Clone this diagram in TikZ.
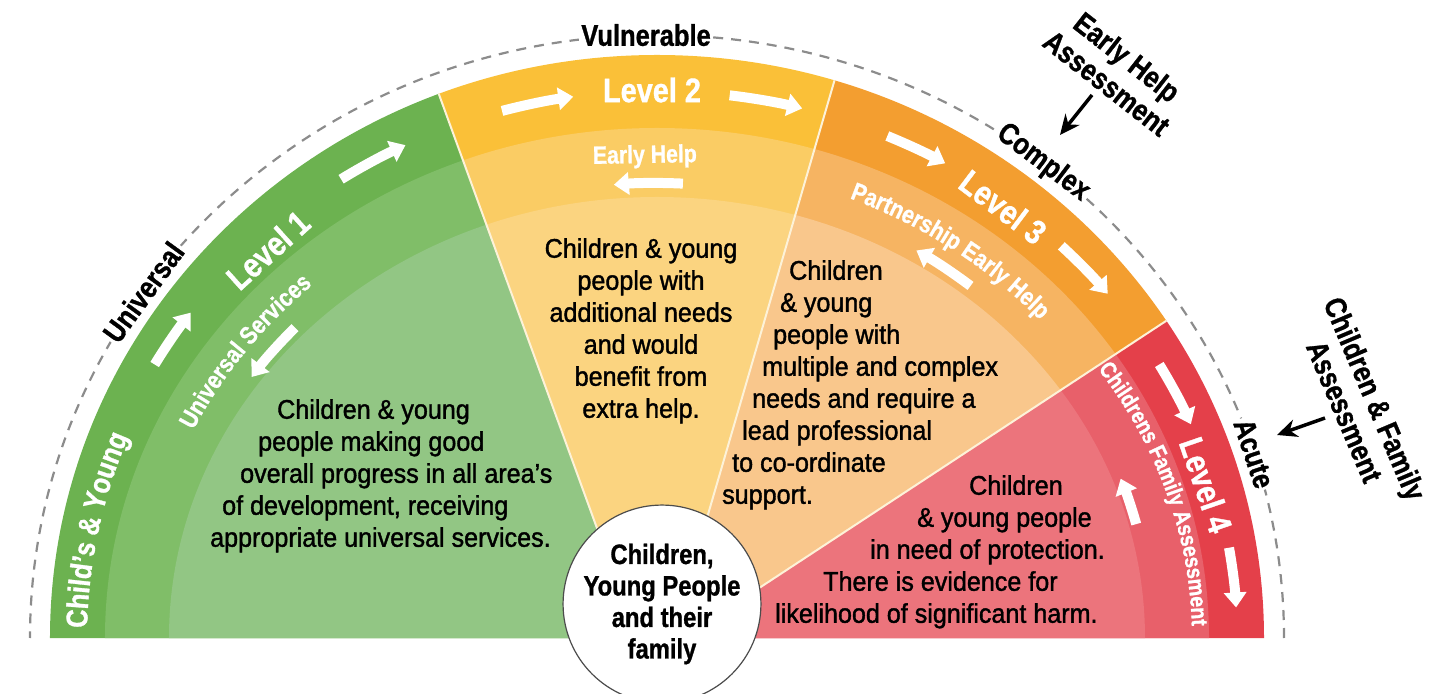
\documentclass[tikz,border=0pt]{standalone}
\usepackage{fontspec}
\setmainfont{Liberation Sans}[FakeStretch=0.93,FakeBold=1.4]
\newfontfamily\lblfont{Liberation Sans}[FakeStretch=0.85,FakeBold=1]
\usetikzlibrary{arrows.meta, decorations.text}

\definecolor{lvlgreenA}{HTML}{6CB250}
\definecolor{lvlgreenB}{HTML}{80BE68}
\definecolor{lvlgreenC}{HTML}{92C684}
\definecolor{lvlyellowA}{HTML}{FAC038}
\definecolor{lvlyellowB}{HTML}{FACC64}
\definecolor{lvlyellowC}{HTML}{FBD480}
\definecolor{lvlorangeA}{HTML}{F39E30}
\definecolor{lvlorangeB}{HTML}{F6B462}
\definecolor{lvlorangeC}{HTML}{F9C78C}
\definecolor{lvlredA}{HTML}{E4404A}
\definecolor{lvlredB}{HTML}{E8606A}
\definecolor{lvlredC}{HTML}{EC747C}
\definecolor{cream}{HTML}{FDF2D8}
\definecolor{dashgray}{HTML}{8C8C8C}

\newcommand\bandfont{\lblfont\bfseries\fontsize{25}{25}\selectfont}
\newcommand\cyfont{\lblfont\bfseries\fontsize{30}{30}\selectfont}
\newcommand\sectorfill[2]{%
  \begin{scope}
    \clip #1 -- cycle;
    \fill[#2A] (0,0) ellipse [x radius=607, y radius=583];
    \fill[#2B] (0,0) ellipse [x radius=552, y radius=510];
    \fill[#2C] (0,0) ellipse [x radius=488, y radius=441];
  \end{scope}}

\begin{document}
\begin{tikzpicture}[x=1pt, y=1pt,
    level/.style={text=white, inner sep=0, font=\lblfont\bfseries\fontsize{34}{34}\selectfont},
    sublabel/.style={text=white, inner sep=0, font=\bandfont},
    outlbl/.style={fill=white, inner sep=2pt, font=\lblfont\bfseries\fontsize{30}{32}\selectfont},
    note/.style={align=center, inner sep=0, font=\lblfont\bfseries\fontsize{30}{33}\selectfont},
    desc/.style={align=left, inner sep=0, anchor=north west, font=\fontsize{27}{32}\selectfont},
    hub/.style={circle, draw=black!70, line width=1.2pt, fill=white, minimum size=194pt, inner sep=0, align=center, font=\lblfont\bfseries\fontsize{28}{31.5}\selectfont},
    bandarrow/.style={white, line width=10pt, -{Triangle[length=15pt,width=22pt]}},
    notearrow/.style={line width=3.5pt, -{Stealth[length=20pt,width=18pt]}},
    sepline/.style={draw=cream, line width=2pt},
    dashline/.style={draw=dashgray, line width=2.2pt, dash pattern=on 10pt off 8pt},
    curved/.style={decorate, decoration={text along path, text align=center, text color=white, text={#1}}}
  ]
  \useasboundingbox (-657,-55) rectangle (782,638);

  \sectorfill{(-20,0) -- (-275,700) -- (-800,700) -- (-800,0)}{lvlgreen}
  \sectorfill{(-20,0) -- (-275,700) -- (219,700) -- (15,0)}{lvlyellow}
  \sectorfill{(15,0) -- (219,700) -- (800,700) -- (800,508) -- (26,0)}{lvlorange}
  \sectorfill{(26,0) -- (800,508) -- (800,0)}{lvlred}

  \begin{scope}
    \clip (0,0) ellipse [x radius=607, y radius=583];
    \draw[sepline] (-20,0) -- (-275,700);
    \draw[sepline] (15,0) -- (219,700);
    \draw[sepline] (26,0) -- (800,508);
  \end{scope}

  \draw[dashline] (0:627 and 603) arc[start angle=0, end angle=180, x radius=627, y radius=603];

  \foreach \from/\to/\rx/\ry in {150/143.5/580/547, 123/115.7/580/547, 105.5/98.3/580/547,
      82.8/75.5/580/547, 66.6/60.2/580/547, 45.8/39/580/547, 30/23/580/547, 9.5/3.2/580/547,
      137/145/495/455, 87/95/495/455, 50.7/58.4/495/455, 14.5/20.5/495/455}
    \draw[bandarrow] ({\from}:{\rx} and {\ry}) arc[start angle=\from, end angle=\to, x radius=\rx, y radius=\ry];

  \node[level, rotate=42] (lvl1) at (-389,388) {Level 1};
  \node[level] (lvl2) at (-5,548) {Level 2};
  \node[level, rotate=-37] (lvl3) at (346,431) {Level 3};
  \node[level, rotate=-71] (lvl4) at (549,153) {Level 4};
  \node[sublabel, anchor=base, rotate=1] (earlyhelp) at (-12,475) {Early Help};

  \path[curved={|\cyfont|Child’s {\&} Young}] (183.5:570 and 537) arc[start angle=183.5, end angle=153.5, x radius=570, y radius=537];
  \path[curved={|\bandfont|Universal Services}] (158:516 and 474) arc[start angle=158, end angle=128, x radius=516, y radius=474];
  \path[curved={|\bandfont|Partnership Early Help}] (72:516 and 474) arc[start angle=72, end angle=38, x radius=516, y radius=474];
  \path[curved={|\lblfont\bfseries\fontsize{23}{23}\selectfont|Childrens Family Assessment}, decoration={text align=left}] (34.5:535 and 475) arc[start angle=34.5, end angle=-20, x radius=535, y radius=475];

  \node[desc] (lvl1text) at (-447,239) {\hspace*{67pt}Children \& young\\\hspace*{48pt}people making good\\\hspace*{30pt}overall progress in all area’s\\\hspace*{12pt}of development, receiving\\appropriate universal services.};
  \node[desc, align=center, anchor=north] (lvl2text) at (-16,400) {Children \& young\\people with\\additional needs\\and would\\benefit from\\extra help.};
  \node[desc] (lvl3text) at (65,378) {\hspace*{67pt}Children\\\hspace*{58pt}\& young\\\hspace*{51pt}people with\\\hspace*{40pt}multiple and complex\\\hspace*{30pt}needs and require a\\\hspace*{20pt}lead professional\\\hspace*{10pt}to co-ordinate\\support.};
  \node[desc] (lvl4text) at (118,163) {\hspace*{194pt}Children\\\hspace*{142pt}\& young people\\\hspace*{95pt}in need of protection.\\\hspace*{48pt}There is evidence for\\likelihood of significant harm.};

  \node[hub] (family) at (5,34) {Children,\\Young People\\and their\\family};

  \node[outlbl, rotate=54] (universal) at (145:627 and 603) {Universal};
  \node[outlbl] (vulnerable) at (91:627 and 603) {Vulnerable};
  \node[outlbl, rotate=-37] (complex) at (52:627 and 603) {Complex};
  \node[outlbl, rotate=-71.5] (acute) at (17.8:627 and 603) {Acute};

  \node[note, rotate=-38] (ehanote) at (460,568) {Early Help\\Assessment};
  \node[note, rotate=-67] (cfanote) at (703,233) {Children \& Family\\Assessment};
  \coordinate (ehatail) at (435,543);
  \coordinate (ehatip) at (403,503);
  \coordinate (cfatail) at (668,220);
  \coordinate (cfatip) at (620,203);
  \draw[notearrow] (ehatail) -- (ehatip);
  \draw[notearrow] (cfatail) -- (cfatip);
\end{tikzpicture}
\end{document}
